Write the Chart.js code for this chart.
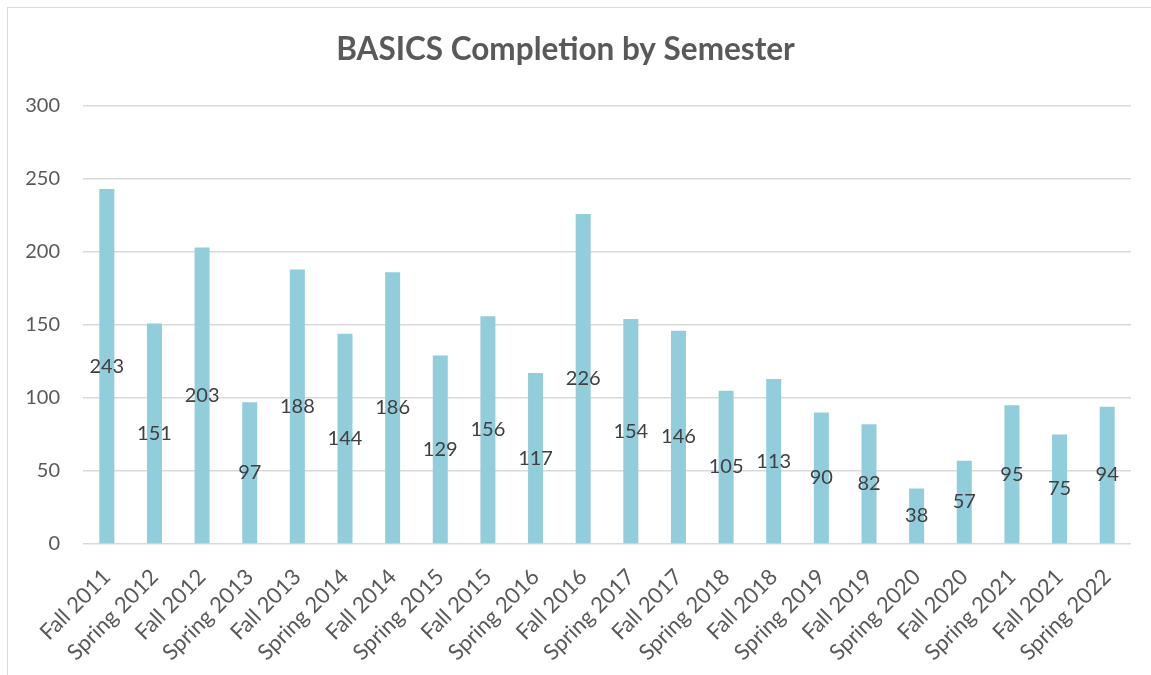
<!DOCTYPE html>
<html>
<head>
<meta charset="utf-8">
<script src="https://cdn.jsdelivr.net/npm/chart.js@4"></script>
<style>
    html, body { margin: 0; padding: 0; background: #fff; }
    #wrap { position: relative; width: 1151px; height: 675px; }
    #frame { position: absolute; left: 7px; top: 7px; right: 0; bottom: 0; border-left: 1px solid #d9d9d9; border-top: 1px solid #d9d9d9; }
</style>
</head>
<body>
<div id="wrap">
    <div id="frame"></div>
    <canvas id="grafico" width="1151" height="675"></canvas>
</div>
<script>
const semestres = ['Fall 2011', 'Spring 2012', 'Fall 2012', 'Spring 2013', 'Fall 2013', 'Spring 2014',
    'Fall 2014', 'Spring 2015', 'Fall 2015', 'Spring 2016', 'Fall 2016', 'Spring 2017', 'Fall 2017',
    'Spring 2018', 'Fall 2018', 'Spring 2019', 'Fall 2019', 'Spring 2020', 'Fall 2020', 'Spring 2021',
    'Fall 2021', 'Spring 2022']
const concluidos = [243, 151, 203, 97, 188, 144, 186, 129, 156, 117, 226, 154, 146, 105, 113, 90, 82, 38, 57, 95, 75, 94]
const ticksY = [0, 50, 100, 150, 200, 250, 300]

const fonte = 'Lato, "Open Sans", sans-serif'

// rotulos no meio de cada barra
const rotulos = {
    id: 'rotulos',
    afterDatasetsDraw(chart) {
        const c = chart.ctx
        const meta = chart.getDatasetMeta(0)
        c.save()
        c.font = '20px ' + fonte
        c.fillStyle = '#404040'
        c.textAlign = 'center'
        c.textBaseline = 'middle'
        meta.data.forEach((bar, i) => {
            const y = (bar.y + bar.base) / 2
            c.fillText(concluidos[i], bar.x, y)
        })
        c.restore()
    }
}

const ctx = document.getElementById('grafico')
new Chart(ctx, {
    type: 'bar',
    data: {
        labels: semestres,
        datasets: [{
            label: 'BASICS',
            data: concluidos,
            backgroundColor: '#92cddc',
            barPercentage: 0.63,
            categoryPercentage: 0.5
        }]
    },
    options: {
        responsive: false,
        animation: false,
        layout: { padding: { left: 0, right: 20, top: 0, bottom: 0 } },
        plugins: {
            legend: { display: false },
            tooltip: { enabled: false },
            title: {
                display: true,
                text: 'BASICS Completion by Semester',
                color: '#595959',
                font: { family: fonte, size: 31.5, weight: 'bold', lineHeight: 1.2 },
                padding: { top: 31, bottom: 37 }
            }
        },
        scales: {
            x: {
                grid: { display: false },
                border: { display: false },
                ticks: {
                    color: '#595959',
                    font: { family: fonte, size: 22 },
                    maxRotation: 45,
                    minRotation: 45,
                    autoSkip: false,
                    padding: 12
                },
                afterFit(scale) { scale.height = 131 }
            },
            y: {
                min: 0,
                max: 300,
                afterBuildTicks(scale) { scale.ticks = ticksY.map(v => ({ value: v })) },
                grid: { color: '#d9d9d9', lineWidth: 1.5, drawTicks: false },
                border: { display: false },
                ticks: {
                    color: '#595959',
                    font: { family: fonte, size: 20 },
                    padding: 23
                },
                afterFit(scale) { scale.width = 83 }
            }
        }
    },
    plugins: [rotulos]
})
</script>
</body>
</html>
